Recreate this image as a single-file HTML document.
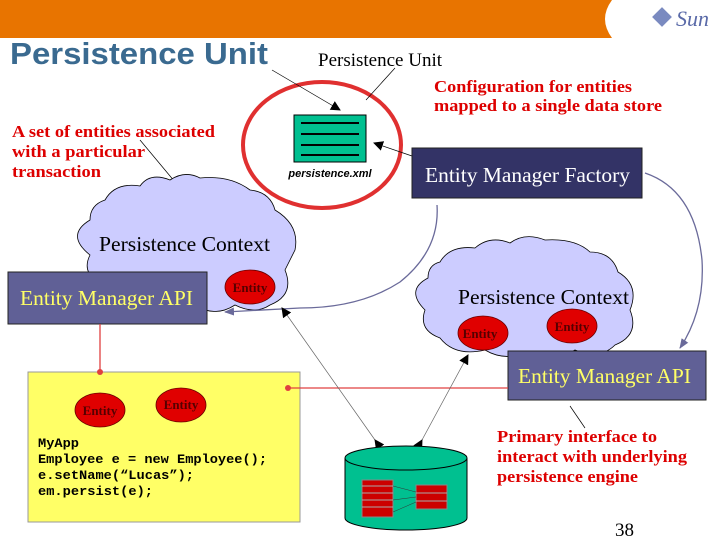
<!DOCTYPE html>
<html><head><style>
body{margin:0;width:728px;height:546px;background:#fff;overflow:hidden}
svg{display:block}
</style></head><body>
<svg width="728" height="546" viewBox="0 0 728 546" xmlns="http://www.w3.org/2000/svg">
<defs>
<marker id="ab" markerWidth="10" markerHeight="10" refX="9" refY="5" orient="auto" markerUnits="userSpaceOnUse"><path d="M0,0 L10,5 L0,10 z" fill="#000"/></marker>
<marker id="ap" markerWidth="10" markerHeight="10" refX="9" refY="5" orient="auto" markerUnits="userSpaceOnUse"><path d="M0,1 L10,5 L0,9 z" fill="#6a6a9a"/></marker>
</defs>
<path d="M0,0 H612 Q598,19 612,38 H0 Z" fill="#e87400"/>
<text x="676" y="26" font-family="Liberation Serif" font-style="italic" font-size="22" fill="#5a6aa8">Sun</text>
<rect x="655" y="10" width="14" height="14" transform="rotate(45 662 17)" fill="#7a8ac0"/>
<text x="10" y="64" font-family="Liberation Sans" font-weight="bold" font-size="31" fill="#3a6a90" textLength="258" lengthAdjust="spacingAndGlyphs">Persistence Unit</text>
<text x="318" y="66" font-family="Liberation Serif" font-size="19">Persistence Unit</text>
<g font-family="Liberation Serif" font-weight="bold" font-size="17" fill="#d00">
<text x="434" y="92" textLength="198" lengthAdjust="spacingAndGlyphs">Configuration for entities</text>
<text x="434" y="111" textLength="228" lengthAdjust="spacingAndGlyphs">mapped to a single data store</text>
<text x="12" y="137" textLength="203" lengthAdjust="spacingAndGlyphs">A set of entities associated</text>
<text x="12" y="157" textLength="133" lengthAdjust="spacingAndGlyphs">with a particular</text>
<text x="12" y="177" textLength="89" lengthAdjust="spacingAndGlyphs">transaction</text>
<text x="497" y="442" textLength="160" lengthAdjust="spacingAndGlyphs">Primary interface to</text>
<text x="497" y="462" textLength="190" lengthAdjust="spacingAndGlyphs">interact with underlying</text>
<text x="497" y="482" textLength="141" lengthAdjust="spacingAndGlyphs">persistence engine</text>
</g>
<ellipse cx="322" cy="145" rx="79" ry="63" fill="none" stroke="#e03030" stroke-width="4"/>
<rect x="294" y="115" width="72" height="47" fill="#00c090" stroke="#000"/>
<g stroke="#000" stroke-width="2"><line x1="301" y1="123" x2="359" y2="123"/><line x1="301" y1="134" x2="359" y2="134"/><line x1="301" y1="145" x2="359" y2="145"/><line x1="301" y1="155" x2="359" y2="155"/></g>
<text x="330" y="177" text-anchor="middle" font-family="Liberation Sans" font-weight="bold" font-style="italic" font-size="11">persistence.xml</text>
<line x1="272" y1="70" x2="340" y2="110" stroke="#000" stroke-width="0.7" marker-end="url(#ab)"/>
<line x1="395" y1="68" x2="366" y2="100" stroke="#000" stroke-width="0.7"/>
<line x1="412" y1="156" x2="374" y2="143" stroke="#000" stroke-width="0.7" marker-end="url(#ab)"/>
<line x1="140" y1="140" x2="175" y2="182" stroke="#000" stroke-width="0.7"/>
<path d="M105,200 Q115,182 140,186 Q150,172 170,180 Q185,170 200,178 Q230,175 250,190 Q270,192 275,210 Q300,225 295,250 Q290,260 285,270 Q295,295 270,305 Q255,315 235,305 Q215,318 195,305 Q170,315 150,300 Q120,305 105,285 Q80,275 90,255 Q65,235 90,220 Q90,205 105,200 Z" fill="#ccccff" stroke="#000" stroke-width="0.8"/>
<path d="M440,262 Q450,245 475,248 Q490,235 510,243 Q525,232 545,240 Q575,238 590,252 Q612,252 618,272 Q640,285 630,310 Q640,335 615,345 Q600,360 575,350 Q555,362 530,352 Q505,362 485,350 Q455,357 440,338 Q418,330 425,310 Q405,290 428,278 Q428,265 440,262 Z" fill="#ccccff" stroke="#000" stroke-width="0.8"/>
<text x="99" y="251" font-family="Liberation Serif" font-size="21" textLength="171" lengthAdjust="spacingAndGlyphs">Persistence Context</text>
<text x="458" y="304" font-family="Liberation Serif" font-size="21" textLength="171" lengthAdjust="spacingAndGlyphs">Persistence Context</text>
<rect x="412" y="148" width="230" height="50" fill="#333366" stroke="#222"/>
<text x="425" y="182" font-family="Liberation Serif" font-size="21" fill="#fff" textLength="205" lengthAdjust="spacingAndGlyphs">Entity Manager Factory</text>
<path d="M437,205 Q440,250 400,282 Q360,308 300,308 L225,312" fill="none" stroke="#6a6a9a" stroke-width="1.3" marker-end="url(#ap)"/>
<path d="M645,173 Q695,190 702,260 Q705,310 680,348" fill="none" stroke="#6a6a9a" stroke-width="1.3" marker-end="url(#ap)"/>
<rect x="8" y="272" width="199" height="52" fill="#606096" stroke="#222"/>
<text x="20" y="305" font-family="Liberation Serif" font-size="21" fill="#ffff66" textLength="173" lengthAdjust="spacingAndGlyphs">Entity Manager API</text>
<rect x="508" y="351" width="198" height="49" fill="#606096" stroke="#222"/>
<text x="518" y="383" font-family="Liberation Serif" font-size="21" fill="#ffff66" textLength="173" lengthAdjust="spacingAndGlyphs">Entity Manager API</text>
<rect x="28" y="372" width="272" height="150" fill="#ffff66" stroke="#999"/>
<line x1="100" y1="324" x2="100" y2="372" stroke="#e04040" stroke-width="1.3"/>
<circle cx="100" cy="372" r="3" fill="#e04040"/>
<line x1="288" y1="388" x2="508" y2="388" stroke="#e04040" stroke-width="1.3"/>
<circle cx="288" cy="388" r="3" fill="#e04040"/>
<g font-family="Liberation Mono" font-weight="bold" font-size="13">
<text x="38" y="447" textLength="41" lengthAdjust="spacingAndGlyphs">MyApp</text>
<text x="38" y="463" textLength="229" lengthAdjust="spacingAndGlyphs">Employee e = new Employee();</text>
<text x="38" y="479" textLength="156" lengthAdjust="spacingAndGlyphs">e.setName(“Lucas”);</text>
<text x="38" y="495" textLength="115" lengthAdjust="spacingAndGlyphs">em.persist(e);</text>
</g>
<g fill="#e00000" stroke="#600" stroke-width="0.8">
<ellipse cx="250" cy="287" rx="25" ry="17"/>
<ellipse cx="483" cy="333" rx="25" ry="17"/>
<ellipse cx="572" cy="326" rx="25" ry="17"/>
<ellipse cx="100" cy="410" rx="25" ry="17"/>
<ellipse cx="181" cy="405" rx="25" ry="17"/>
</g>
<g font-family="Liberation Serif" font-weight="bold" font-size="13" fill="#500" text-anchor="middle">
<text x="250" y="292">Entity</text>
<text x="480" y="338">Entity</text>
<text x="572" y="331">Entity</text>
<text x="100" y="415">Entity</text>
<text x="181" y="409">Entity</text>
</g>
<line x1="375" y1="440" x2="282" y2="308" stroke="#666" stroke-width="0.7" marker-start="url(#ab)" marker-end="url(#ab)"/>
<line x1="422" y1="440" x2="468" y2="355" stroke="#666" stroke-width="0.7" marker-start="url(#ab)" marker-end="url(#ab)"/>
<line x1="570" y1="406" x2="585" y2="428" stroke="#000" stroke-width="0.7"/>
<path d="M345,458 V518 A61,12 0 0 0 467,518 V458" fill="#00c090" stroke="#000"/>
<ellipse cx="406" cy="458" rx="61" ry="12" fill="#00c090" stroke="#000"/>
<rect x="362" y="480" width="31" height="37" fill="#c00" stroke="#888"/>
<rect x="416" y="485" width="31" height="24" fill="#c00" stroke="#888"/>
<g stroke="#aaa" stroke-width="1"><line x1="362" y1="486" x2="393" y2="486"/><line x1="362" y1="493" x2="393" y2="493"/><line x1="362" y1="500" x2="393" y2="500"/><line x1="362" y1="507" x2="393" y2="507"/><line x1="416" y1="493" x2="447" y2="493"/><line x1="416" y1="501" x2="447" y2="501"/></g>
<g stroke="#333" stroke-width="0.5"><line x1="393" y1="486" x2="416" y2="492"/><line x1="393" y1="500" x2="416" y2="497"/><line x1="393" y1="512" x2="416" y2="502"/></g>
<text x="615" y="536" font-family="Liberation Serif" font-size="19">38</text>
</svg>
</body></html>
